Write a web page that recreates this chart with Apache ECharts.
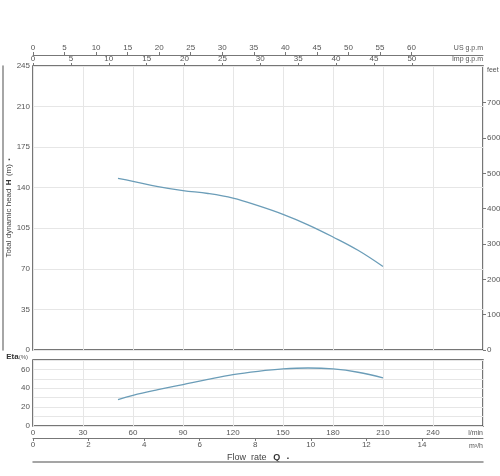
<!DOCTYPE html>
<html><head><meta charset="utf-8">
<script src="https://cdn.jsdelivr.net/npm/echarts@6/dist/echarts.min.js"></script>
<style>html,body{margin:0;padding:0;background:#fff}#c{width:500px;height:476px}</style>
</head><body><div id="c"></div>
<script>
// Flow rate (l/min) and head (m)
const headFlow = [51, 60, 75, 90, 105, 120, 135, 150, 165, 180, 195, 210];
const headValues = [148, 145.5, 141, 137.5, 135, 131, 124.5, 117, 108, 97.5, 86, 72];
// Efficiency (%)
const etaFlow = [51, 60, 75, 90, 105, 120, 135, 150, 165, 180, 195, 210];
const etaValues = [28, 32.5, 38.5, 44, 49.5, 54.5, 58, 60.5, 61.5, 60.5, 57, 51];
// Tick labels
const lminTicks = [0, 30, 60, 90, 120, 150, 180, 210, 240];
const m3hTicks = [0, 2, 4, 6, 8, 10, 12, 14];
const usTicks = [0, 5, 10, 15, 20, 25, 30, 35, 40, 45, 50, 55, 60];
const impTicks = [0, 5, 10, 15, 20, 25, 30, 35, 40, 45, 50];
const headTicks = [0, 35, 70, 105, 140, 175, 210, 245];
const feetTicks = [0, 100, 200, 300, 400, 500, 600, 700];
const etaTicks = [0, 20, 40, 60];

const FLOW_MAX = 270, HEAD_MAX = 245, ETA_MAX = 70;
const txt = '#555', font = 'Liberation Sans, Arial, sans-serif';
const lab = {color: txt, fontSize: 8, fontFamily: font};
const split = {show: true, lineStyle: {color: '#e6e6e6', width: 1}};
const gray = {show: true, lineStyle: {color: '#777', width: 1}};
const tickStyle = {color: '#777', width: 1};
const g = (o) => Object.assign({outerBoundsMode: 'none', containLabel: false}, o);
const hidden = (gi) => ({gridIndex: gi, type: 'value', min: 0, max: 1, show: false});

const chart = echarts.init(document.getElementById('c'));
chart.setOption({
  animation: false,
  textStyle: {fontFamily: font},
  grid: [
    g({left: 33, top: 66, width: 450, height: 284, show: true, borderColor: '#4a4a4a', borderWidth: 1.5}),
    g({left: 33, top: 360, width: 450, height: 66, show: true, borderColor: '#4a4a4a', borderWidth: 1.5}),
    g({left: 33, top: 30, width: 450, height: 25}),
    g({left: 33, top: 41, width: 450, height: 25}),
    g({left: 483, top: 66, width: 10, height: 284})
  ],
  xAxis: [
    {gridIndex: 0, type: 'value', min: 0, max: FLOW_MAX, interval: 30, position: 'bottom',
     axisLine: {show: false}, axisTick: {show: false}, axisLabel: {show: false}, splitLine: split},
    {gridIndex: 1, type: 'value', min: 0, max: FLOW_MAX, interval: 30, position: 'bottom',
     axisLine: {show: false}, axisTick: {show: false}, splitLine: split,
     axisLabel: Object.assign({customValues: lminTicks, margin: 3}, lab),
     name: 'l/min', nameLocation: 'end', nameGap: 0,
     nameTextStyle: {color: txt, fontSize: 7, align: 'right', verticalAlign: 'top', padding: [4, 0, 0, 0]}},
    {gridIndex: 1, type: 'value', min: 0, max: FLOW_MAX * 60 / 1000, position: 'bottom', offset: 12,
     axisLine: gray, splitLine: {show: false},
     axisTick: {show: true, length: 3, customValues: m3hTicks, lineStyle: tickStyle},
     axisLabel: Object.assign({customValues: m3hTicks, margin: 3}, lab),
     name: 'm³/h', nameLocation: 'end', nameGap: 0,
     nameTextStyle: {color: txt, fontSize: 7, align: 'right', verticalAlign: 'top', padding: [5, 0, 0, 0]}},
    {gridIndex: 1, type: 'value', min: 0, max: FLOW_MAX, position: 'bottom', offset: 36,
     axisLine: {show: true, lineStyle: {color: '#888', width: 1.5}}, axisTick: {show: false},
     axisLabel: {show: false}, splitLine: {show: false},
     name: '{t|Flow  rate}  {b|Q}  {s|▪}', nameLocation: 'middle', nameGap: -10,
     nameTextStyle: {rich: {t: {color: '#444', fontSize: 9}, b: {color: '#333', fontSize: 9, fontWeight: 'bold'}, s: {color: '#444', fontSize: 6}}}},
    {gridIndex: 2, type: 'value', min: 0, max: FLOW_MAX / 3.78541, position: 'bottom',
     axisLine: gray, splitLine: {show: false},
     axisTick: {show: true, inside: true, length: 3, customValues: usTicks, lineStyle: tickStyle},
     axisLabel: Object.assign({inside: true, customValues: usTicks, margin: 3}, lab),
     name: 'US g.p.m', nameLocation: 'end', nameGap: 0,
     nameTextStyle: {color: txt, fontSize: 7, align: 'right', verticalAlign: 'bottom', padding: [0, 0, 3, 0]}},
    {gridIndex: 3, type: 'value', min: 0, max: FLOW_MAX / 4.54609, position: 'bottom',
     axisLine: {show: false}, splitLine: {show: false},
     axisTick: {show: true, inside: true, length: 3, customValues: impTicks, lineStyle: tickStyle},
     axisLabel: Object.assign({inside: true, customValues: impTicks, margin: 3}, lab),
     name: 'Imp g.p.m', nameLocation: 'end', nameGap: 0,
     nameTextStyle: {color: txt, fontSize: 7, align: 'right', verticalAlign: 'bottom', padding: [0, 0, 3, 0]}},
    hidden(4)
  ],
  yAxis: [
    {gridIndex: 0, type: 'value', min: 0, max: HEAD_MAX, interval: 35,
     axisLine: {show: false}, axisTick: {show: false}, splitLine: split,
     axisLabel: Object.assign({customValues: headTicks, margin: 3}, lab)},
    {gridIndex: 0, type: 'value', min: 0, max: HEAD_MAX, position: 'left', offset: 30,
     axisLine: {show: true, lineStyle: {color: '#888', width: 1.5}}, axisTick: {show: false},
     axisLabel: {show: false}, splitLine: {show: false},
     name: '{t|Total dynamic head} {b|H} {t|(m)} {s|▪}', nameLocation: 'middle', nameGap: -12,
     nameTextStyle: {rich: {t: {color: '#444', fontSize: 8}, b: {color: '#333', fontSize: 8, fontWeight: 'bold'}, s: {color: '#444', fontSize: 6}}}},
    {gridIndex: 1, type: 'value', min: 0, max: ETA_MAX, interval: 10,
     axisLine: {show: false}, axisTick: {show: false}, splitLine: split,
     axisLabel: Object.assign({customValues: etaTicks, margin: 3}, lab),
     name: '{b|Eta}{t|(%)}', nameLocation: 'end', nameGap: -1,
     nameTextStyle: {align: 'right', verticalAlign: 'bottom', padding: [0, 5, 0, 0], rich: {b: {color: '#333', fontSize: 8, fontWeight: 'bold'}, t: {color: '#555', fontSize: 6}}}},
    hidden(2),
    hidden(3),
    {gridIndex: 4, type: 'value', min: 0, max: HEAD_MAX / 0.3048, position: 'left',
     axisLine: {show: false}, splitLine: {show: false},
     axisTick: {show: true, inside: true, length: 3, customValues: feetTicks, lineStyle: tickStyle},
     axisLabel: Object.assign({inside: true, customValues: feetTicks, margin: 4}, lab),
     name: 'feet', nameLocation: 'end', nameGap: -4,
     nameTextStyle: {color: txt, fontSize: 7, align: 'left', verticalAlign: 'middle', padding: [0, 0, 0, 4]}}
  ],
  series: [
    {type: 'line', xAxisIndex: 0, yAxisIndex: 0, smooth: 0.4, symbol: 'none',
     lineStyle: {color: '#6b9db8', width: 1.3}, data: headFlow.map((q, i) => [q, headValues[i]])},
    {type: 'line', xAxisIndex: 1, yAxisIndex: 2, smooth: 0.4, symbol: 'none',
     lineStyle: {color: '#6b9db8', width: 1.3}, data: etaFlow.map((q, i) => [q, etaValues[i]])}
  ]
});
</script></body></html>
